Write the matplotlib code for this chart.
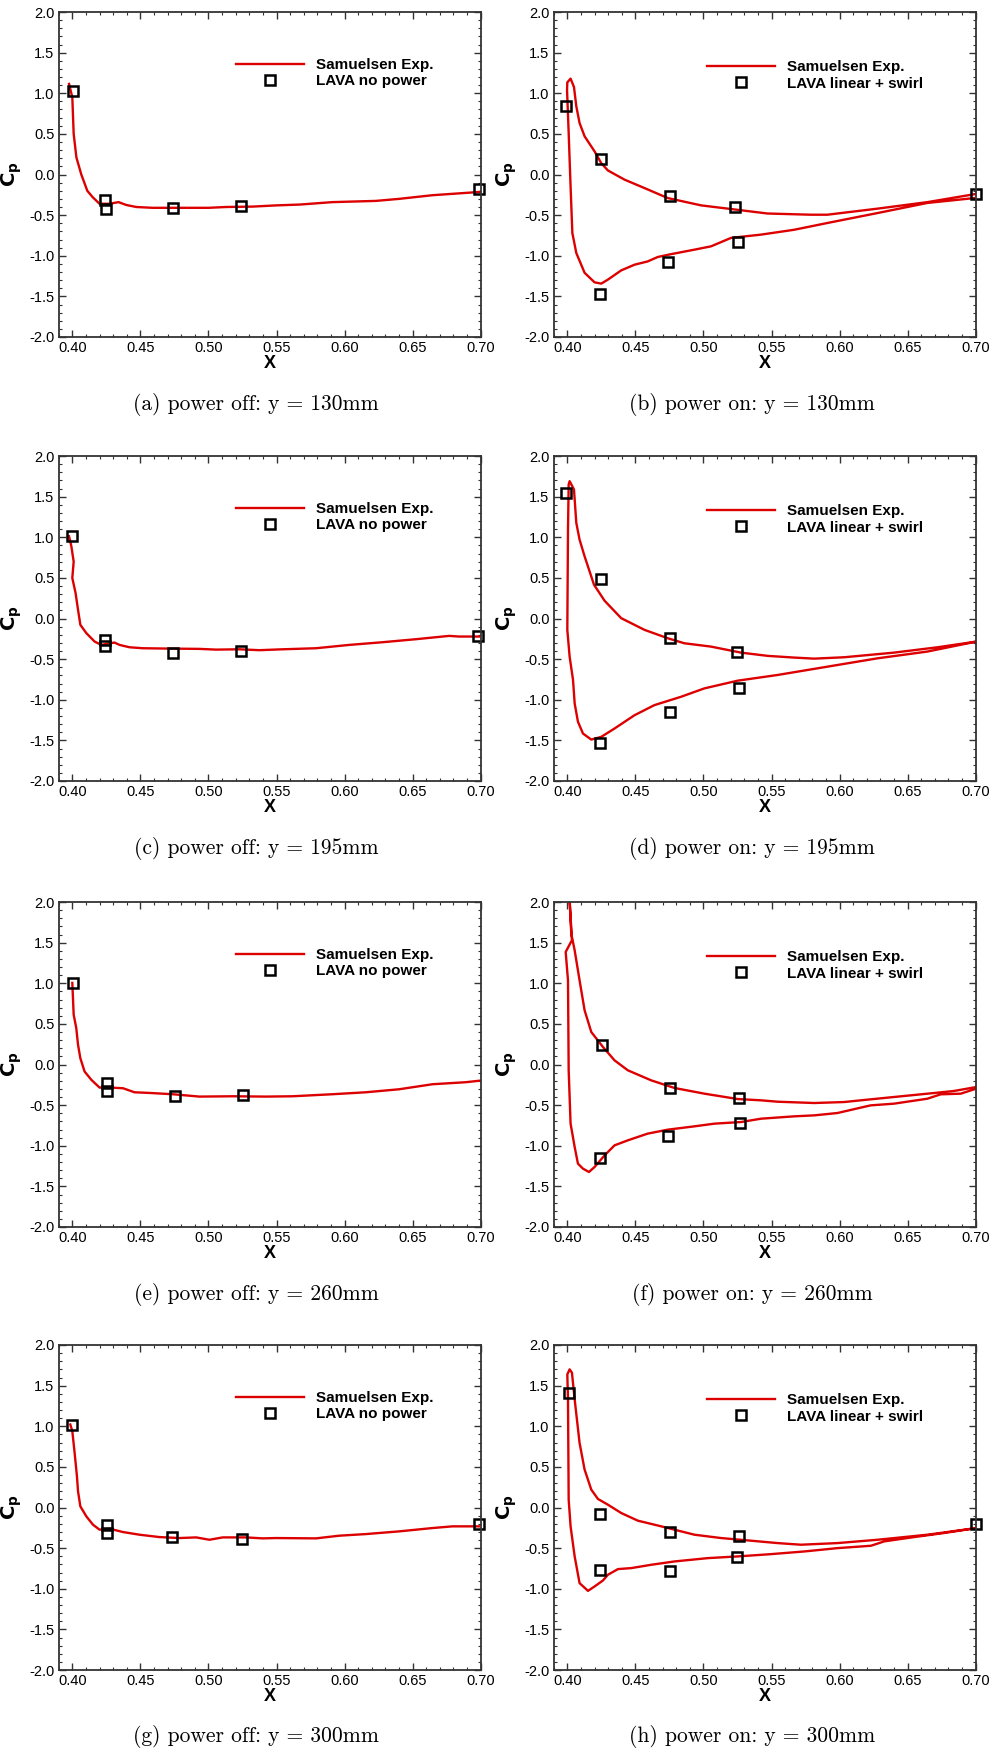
import matplotlib
matplotlib.use("Agg")
import matplotlib.pyplot as plt
from matplotlib.ticker import MultipleLocator

plt.rcParams['font.family'] = ['Liberation Sans', 'DejaVu Sans']

# (a) power off, y = 130mm
exp_a_x = [0.3976, 0.400, 0.401, 0.403, 0.4066, 0.411, 0.415, 0.420, 0.4274, 0.434, 0.4396, 0.447,
           0.459, 0.476, 0.500, 0.513, 0.5325, 0.550, 0.567, 0.591, 0.623, 0.640, 0.6645, 0.699]
exp_a_y = [1.115, 0.95, 0.50, 0.21, 0.0, -0.20, -0.28, -0.36, -0.36, -0.34, -0.375, -0.40,
           -0.41, -0.41, -0.41, -0.40, -0.395, -0.38, -0.37, -0.34, -0.325, -0.30, -0.255, -0.215]
lava_a_x = [0.4007, 0.4242, 0.4245, 0.474, 0.524, 0.699]
lava_a_y = [1.025, -0.31, -0.43, -0.415, -0.385, -0.18]

# (b) power on, y = 130mm
exp_b_x = [0.700, 0.6645, 0.628, 0.591, 0.579, 0.547, 0.5227, 0.4983, 0.4738, 0.4567, 0.442, 0.4298,
           0.4249, 0.420, 0.4127, 0.409, 0.4066, 0.4049, 0.4024, 0.400, 0.3998,
           0.401, 0.4024, 0.4037, 0.4066, 0.4127, 0.420, 0.4249, 0.4298, 0.4396, 0.4494, 0.459,
           0.4665, 0.4763, 0.4934, 0.5056, 0.5203, 0.5423, 0.5667, 0.591, 0.628, 0.6645, 0.699]
exp_b_y = [-0.24, -0.34, -0.42, -0.495, -0.495, -0.48, -0.43, -0.38, -0.29, -0.167, -0.063, 0.05,
           0.14, 0.285, 0.47, 0.634, 0.84, 1.077, 1.18, 1.134, 1.04,
           0.51, -0.146, -0.72, -0.966, -1.21, -1.327, -1.343, -1.294, -1.18, -1.11, -1.07,
           -1.015, -0.98, -0.925, -0.884, -0.78, -0.74, -0.68, -0.597, -0.474, -0.35, -0.29]
lava_b_x = [0.3993, 0.4249, 0.4751, 0.5235, 0.5252, 0.4738, 0.4242, 0.7005]
lava_b_y = [0.84, 0.19, -0.26, -0.40, -0.835, -1.077, -1.47, -0.236]

# (c) power off, y = 195mm
exp_c_x = [0.3976, 0.3993, 0.401, 0.400, 0.4024, 0.4042, 0.4059, 0.4103, 0.4164, 0.4213, 0.4274,
           0.431, 0.4347, 0.442, 0.4518, 0.469, 0.4934, 0.5056, 0.5227, 0.5374, 0.5545, 0.579,
           0.6034, 0.6279, 0.6523, 0.6768, 0.684, 0.6988]
exp_c_y = [1.012, 0.889, 0.70, 0.498, 0.313, 0.107, -0.078, -0.18, -0.284, -0.325, -0.305,
           -0.296, -0.325, -0.354, -0.366, -0.37, -0.374, -0.383, -0.379, -0.39, -0.379, -0.366,
           -0.325, -0.292, -0.255, -0.214, -0.222, -0.222]
lava_c_x = [0.3998, 0.424, 0.424, 0.474, 0.524, 0.698]
lava_c_y = [1.02, -0.263, -0.333, -0.42, -0.403, -0.21]

# (d) power on, y = 195mm
exp_d_x = [0.7005, 0.672, 0.640, 0.6034, 0.5814, 0.5667, 0.5472, 0.5276, 0.5056, 0.486, 0.4738,
           0.4567, 0.4396, 0.4274, 0.4196, 0.4127, 0.409, 0.4066, 0.4049, 0.4017, 0.401,
           0.4005, 0.400, 0.4017, 0.4042, 0.4054, 0.4078, 0.4115, 0.4176, 0.4249, 0.4347, 0.4494,
           0.464, 0.4836, 0.5007, 0.5252, 0.5545, 0.591, 0.6279, 0.6645, 0.7005]
exp_d_y = [-0.284, -0.354, -0.42, -0.477, -0.494, -0.481, -0.46, -0.42, -0.346, -0.305, -0.243,
           -0.14, 0.004, 0.218, 0.416, 0.765, 0.971, 1.177, 1.588, 1.69, 1.65,
           1.095, -0.14, -0.469, -0.757, -1.045, -1.27, -1.416, -1.49, -1.457, -1.354, -1.19,
           -1.066, -0.963, -0.86, -0.765, -0.695, -0.593, -0.49, -0.407, -0.284]
lava_d_x = [0.399, 0.4249, 0.4758, 0.5249, 0.5262, 0.4751, 0.4242]
lava_d_y = [1.539, 0.481, -0.243, -0.412, -0.852, -1.148, -1.53]

# (e) power off, y = 260mm
exp_e_x = [0.400, 0.401, 0.4029, 0.4042, 0.4059, 0.409, 0.414, 0.420, 0.4274, 0.4372, 0.4408,
           0.4457, 0.4567, 0.4738, 0.4934, 0.5178, 0.5423, 0.5618, 0.591, 0.6155, 0.640, 0.6645,
           0.689, 0.700]
exp_e_y = [1.004, 0.613, 0.449, 0.243, 0.078, -0.086, -0.189, -0.284, -0.284, -0.292, -0.313,
           -0.342, -0.35, -0.366, -0.395, -0.391, -0.395, -0.391, -0.366, -0.342, -0.305, -0.243,
           -0.218, -0.198]
lava_e_x = [0.4002, 0.4254, 0.4254, 0.4753, 0.5252]
lava_e_y = [1.004, -0.222, -0.325, -0.387, -0.374]

# (f) power on, y = 260mm
exp_f_x = [0.7005, 0.684, 0.6694, 0.640, 0.6155, 0.6034, 0.5814, 0.5545, 0.5423, 0.5252, 0.5007,
           0.4787, 0.4616, 0.4445, 0.4347, 0.4262, 0.4176, 0.4127, 0.409, 0.4054, 0.4029, 0.4017,
           0.4034, 0.3988, 0.4005, 0.401, 0.4024, 0.4054, 0.4078, 0.4115, 0.4159, 0.420, 0.4274,
           0.4347, 0.4445, 0.459, 0.4738, 0.4934, 0.5081, 0.5276, 0.5423, 0.5667, 0.5814, 0.5985,
           0.6155, 0.6228, 0.640, 0.6645, 0.6743, 0.689, 0.7005]
exp_f_y = [-0.277, -0.326, -0.351, -0.40, -0.441, -0.462, -0.474, -0.458, -0.441, -0.425, -0.359,
           -0.289, -0.195, -0.072, 0.051, 0.215, 0.40, 0.667, 1.036, 1.405, 1.61, 2.02,
           1.53, 1.385, 1.036, -0.072, -0.728, -1.015, -1.22, -1.282, -1.323, -1.262, -1.118,
           -0.995, -0.933, -0.851, -0.802, -0.761, -0.728, -0.708, -0.667, -0.638, -0.626, -0.597,
           -0.531, -0.503, -0.482, -0.421, -0.367, -0.359, -0.297]
lava_f_x = [0.4257, 0.4751, 0.5262, 0.5267, 0.4738, 0.4242]
lava_f_y = [0.244, -0.285, -0.412, -0.716, -0.884, -1.147]

# (g) power off, y = 300mm
exp_g_x = [0.3985, 0.400, 0.4017, 0.4034, 0.4042, 0.4059, 0.4103, 0.4152, 0.420, 0.4274, 0.4372,
           0.4494, 0.464, 0.4787, 0.491, 0.5007, 0.5105, 0.5276, 0.5399, 0.5496, 0.579, 0.5961,
           0.6157, 0.640, 0.6645, 0.6792, 0.6988]
exp_g_y = [1.022, 0.94, 0.672, 0.384, 0.199, 0.014, -0.109, -0.212, -0.273, -0.261, -0.302,
           -0.335, -0.364, -0.376, -0.368, -0.397, -0.368, -0.368, -0.38, -0.376, -0.38, -0.347,
           -0.327, -0.294, -0.253, -0.232, -0.232]
lava_g_x = [0.3998, 0.4254, 0.4254, 0.4731, 0.5244, 0.6988]
lava_g_y = [1.013, -0.22, -0.315, -0.364, -0.388, -0.199]

# (h) power on, y = 300mm
exp_h_x = [0.7005, 0.6645, 0.6279, 0.5985, 0.5716, 0.5545, 0.5325, 0.513, 0.4934, 0.469, 0.4518,
           0.4396, 0.4298, 0.4225, 0.4176, 0.4127, 0.409, 0.4054, 0.4034, 0.4017, 0.400,
           0.4005, 0.401, 0.4024, 0.4054, 0.409, 0.4152, 0.420, 0.4262, 0.4298, 0.4372, 0.4469,
           0.4616, 0.4787, 0.5032, 0.5252, 0.5496, 0.5741, 0.5985, 0.623, 0.6328, 0.6548, 0.6768,
           0.7005]
exp_h_y = [-0.253, -0.335, -0.397, -0.438, -0.458, -0.438, -0.405, -0.376, -0.335, -0.232, -0.162,
           -0.068, 0.035, 0.105, 0.22, 0.467, 0.795, 1.33, 1.659, 1.70, 1.638,
           1.33, 0.097, -0.232, -0.602, -0.931, -1.026, -0.972, -0.898, -0.828, -0.758, -0.746,
           -0.705, -0.664, -0.623, -0.602, -0.574, -0.541, -0.50, -0.471, -0.417, -0.364, -0.314,
           -0.253]
lava_h_x = [0.401, 0.4242, 0.4751, 0.5262, 0.5247, 0.4751, 0.4242, 0.7005]
lava_h_y = [1.404, -0.084, -0.306, -0.356, -0.61, -0.787, -0.767, -0.203]

captions = ['(a) power off: y = 130mm', '(b) power on: y = 130mm',
            '(c) power off: y = 195mm', '(d) power on: y = 195mm',
            '(e) power off: y = 260mm', '(f) power on: y = 260mm',
            '(g) power off: y = 300mm', '(h) power on: y = 300mm']
lava_labels = ['LAVA no power', 'LAVA linear + swirl']

panels = [(exp_a_x, exp_a_y, lava_a_x, lava_a_y), (exp_b_x, exp_b_y, lava_b_x, lava_b_y),
          (exp_c_x, exp_c_y, lava_c_x, lava_c_y), (exp_d_x, exp_d_y, lava_d_x, lava_d_y),
          (exp_e_x, exp_e_y, lava_e_x, lava_e_y), (exp_f_x, exp_f_y, lava_f_x, lava_f_y),
          (exp_g_x, exp_g_y, lava_g_x, lava_g_y), (exp_h_x, exp_h_y, lava_h_x, lava_h_y)]

W, H = 995, 1750
fig = plt.figure(figsize=(W / 100, H / 100), dpi=100)

col_left = [58.7, 553.7]
ax_w = 422.0
row_top = [12, 456, 902, 1345]
ax_h = 325.0

for i, (ex, ey, lx, ly) in enumerate(panels):
    r, c = divmod(i, 2)
    ax = fig.add_axes([col_left[c] / W, 1 - (row_top[r] + ax_h) / H, ax_w / W, ax_h / H])
    ax.plot(ex, ey, color='#dd0000', lw=1.7, label='Samuelsen Exp.')
    ax.plot(lx, ly, ls='none', marker='s', ms=7.2, mfc='none', mec='black', mew=1.8,
            label=lava_labels[c], clip_on=False)
    ax.set_xlim(0.39, 0.70)
    ax.set_ylim(-2, 2)
    ax.xaxis.set_major_locator(MultipleLocator(0.05))
    ax.xaxis.set_minor_locator(MultipleLocator(0.01))
    ax.yaxis.set_major_locator(MultipleLocator(0.5))
    ax.yaxis.set_minor_locator(MultipleLocator(0.1))
    ax.xaxis.set_major_formatter(lambda v, p: f'{v:.2f}')
    ax.yaxis.set_major_formatter(lambda v, p: f'{v:.1f}')
    ax.tick_params(which='both', direction='in', top=True, right=True, labelsize=10.5, pad=3,
                   color='#333333')
    ax.tick_params(which='major', length=5, width=1)
    ax.tick_params(which='minor', length=2.5, width=0.8)
    for s in ax.spines.values():
        s.set_linewidth(1.3)
        s.set_color('#333333')
    ax.set_xlabel('X', fontsize=13, fontweight='bold', labelpad=0)
    ax.set_ylabel(r'$\mathbf{C_p}$', fontsize=14)
    ax.yaxis.set_label_coords(-0.082, 0.5)
    leg_x = 0.421 if c == 0 else 0.364
    leg_y = 0.812 if c == 0 else 0.805
    ax.legend(loc='center left', bbox_to_anchor=(leg_x, leg_y), frameon=False,
              prop={'weight': 'bold', 'size': 11}, handlelength=4.4, handletextpad=0.8,
              borderpad=0, borderaxespad=0, labelspacing=0.15)
    cx = 256 if c == 0 else 752
    fig.text(cx / W, 1 - (row_top[r] + ax_h + 67) / H, captions[i], ha='center', va='center',
             fontsize=15.5, family=['cmr10', 'DejaVu Serif'])

fig.savefig('out.png', dpi=100)
